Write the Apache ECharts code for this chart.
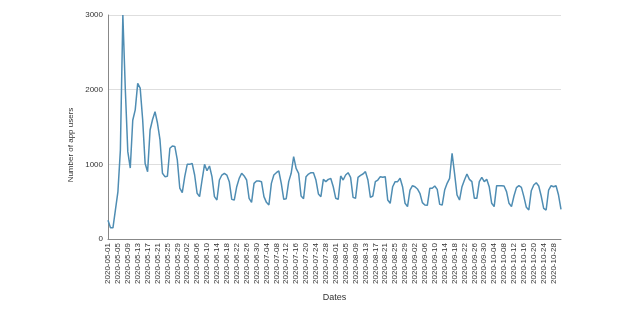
<!DOCTYPE html>
<html>
<head>
<meta charset="utf-8">
<script src="https://cdn.jsdelivr.net/npm/echarts@6/dist/echarts.min.js"></script>
<style>html,body{margin:0;padding:0;background:#fff;}#chart{width:619px;height:309px;}</style>
</head>
<body>
<div id="chart"></div>
<script>
// Daily app users, 2020-05-01 .. 2020-10-31
var startDate = '2020-05-01';
var dayCount = 184;
var usersMay = [250,150,150,390,630,1190,3000,2000,1170,950,1590,1730,2085,2020,1600,1010,900,1460,1600,1705,1550,1330,880,835,840,1215,1245,1240,1060,680,620];
var usersJun = [835,1000,1000,1013,857,612,567,790,1000,915,978,835,567,522,790,857,880,857,768,531,522,700,812,880,844,790,545,491,745,777];
var usersJul = [777,768,567,491,455,745,857,888,911,745,531,540,768,880,1103,946,880,576,540,835,870,888,888,790,603,567,799,768,799,810,700];
var usersAug = [545,531,844,790,857,888,826,558,545,826,853,870,902,790,558,576,768,790,835,826,835,522,478,700,768,768,813,700,478,433,656];
var usersSep = [714,700,670,612,487,455,451,679,679,710,665,464,455,656,746,813,1147,880,589,522,700,790,870,799,768,545,545,768,826,768];
var usersOct = [799,700,478,433,714,714,714,710,634,478,433,576,688,714,692,567,424,388,647,723,754,710,576,411,388,656,714,700,714,589,397];
var yTicks = [0, 1000, 2000, 3000];

var values = [].concat(usersMay, usersJun, usersJul, usersAug, usersSep, usersOct);
var dates = [];
(function () {
  var d = new Date(startDate + 'T00:00:00Z');
  for (var i = 0; i < dayCount; i++) {
    var t = new Date(d.getTime() + i * 86400000);
    var m = t.getUTCMonth() + 1, dd = t.getUTCDate();
    dates.push(t.getUTCFullYear() + '-' + (m < 10 ? '0' : '') + m + '-' + (dd < 10 ? '0' : '') + dd);
  }
})();

var chart = echarts.init(document.getElementById('chart'), null, {renderer: 'canvas'});
chart.setOption({
  animation: false,
  backgroundColor: '#ffffff',
  textStyle: {fontFamily: 'Liberation Sans, Arial, sans-serif'},
  grid: {left: 108, right: 58, top: 15, bottom: 70, containLabel: false},
  xAxis: {
    type: 'category',
    data: dates,
    boundaryGap: false,
    name: 'Dates',
    nameLocation: 'middle',
    nameGap: 54,
    nameTextStyle: {fontSize: 9, color: '#333', fontFamily: 'Liberation Sans, Arial, sans-serif'},
    axisLine: {show: true, lineStyle: {color: '#888', width: 1}},
    axisTick: {show: false},
    axisLabel: {interval: 3, rotate: 90, fontSize: 8, color: '#333', margin: 4, fontFamily: 'Liberation Sans, Arial, sans-serif'},
    splitLine: {show: false}
  },
  yAxis: {
    type: 'value',
    min: yTicks[0],
    max: yTicks[yTicks.length - 1],
    interval: 1000,
    name: 'Number of app users',
    nameLocation: 'middle',
    nameGap: 31,
    nameTextStyle: {fontSize: 8, color: '#333', padding: [0, 36, 0, 0], fontFamily: 'Liberation Sans, Arial, sans-serif'},
    axisLine: {show: true, lineStyle: {color: '#888', width: 1}},
    axisTick: {show: false},
    axisLabel: {fontSize: 8, color: '#333', margin: 5, fontFamily: 'Liberation Sans, Arial, sans-serif',
      formatter: function (v) { return String(v); }},
    splitLine: {show: true, lineStyle: {color: '#dedede', width: 1}}
  },
  series: [{
    type: 'line',
    data: values,
    showSymbol: false,
    symbol: 'none',
    lineStyle: {color: '#4f8db3', width: 1.5},
    itemStyle: {color: '#4f8db3'}
  }]
});
</script>
</body>
</html>
